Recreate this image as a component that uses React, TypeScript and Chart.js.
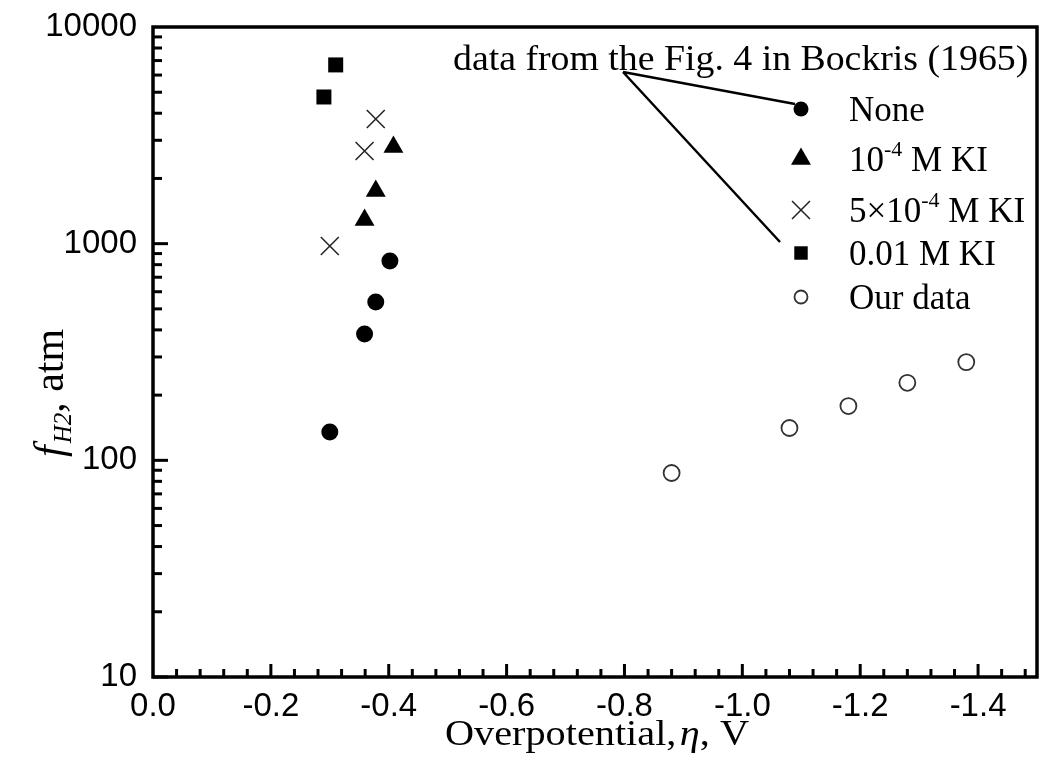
import React, { useEffect, useRef } from 'react';
import { Chart, registerables } from 'chart.js';

Chart.register(...registerables);

// ---------- data ----------
const noneX = [-0.30, -0.359, -0.378, -0.402];
const noneY = [135, 383, 538, 832];
const ki4X = [-0.359, -0.378, -0.408];
const ki4Y = [1286, 1750, 2793];
const ki54X = [-0.30, -0.359, -0.378];
const ki54Y = [976, 2677, 3760];
const ki001X = [-0.29, -0.31];
const ki001Y = [4753, 6683];
const ourX = [-0.88, -1.08, -1.18, -1.28, -1.38];
const ourY = [87.4, 141, 178, 228, 284];

const xTicks = [0, -0.2, -0.4, -0.6, -0.8, -1.0, -1.2, -1.4];
const yTicks = [10, 100, 1000, 10000];

// legend label parts: [base, superscript, rest]
const legendParts: [string, string, string][] = [
  ['None', '', ''],
  ['10', '-4', ' M KI'],
  ['5×10', '-4', ' M KI'],
  ['0.01 M KI', '', ''],
  ['Our data', '', ''],
];
const annotationText = 'data from the Fig. 4 in Bockris (1965)';

const SERIF = '"Liberation Serif", "Times New Roman", serif';
const SANS = '"Liberation Sans", Arial, sans-serif';

const toPts = (xs: number[], ys: number[]) => xs.map((x, i) => ({ x, y: ys[i] }));

function drawMarker(ctx: CanvasRenderingContext2D, style: string, x: number, y: number, s: number) {
  ctx.save();
  ctx.beginPath();
  if (style === 'circle') {
    ctx.arc(x, y, s, 0, Math.PI * 2);
    ctx.fillStyle = '#000';
    ctx.fill();
  } else if (style === 'triangle') {
    ctx.moveTo(x, y - s);
    ctx.lineTo(x + s * 0.866, y + s * 0.5);
    ctx.lineTo(x - s * 0.866, y + s * 0.5);
    ctx.closePath();
    ctx.fillStyle = '#000';
    ctx.fill();
  } else if (style === 'crossRot') {
    const d = s * 0.7071;
    ctx.moveTo(x - d, y - d);
    ctx.lineTo(x + d, y + d);
    ctx.moveTo(x + d, y - d);
    ctx.lineTo(x - d, y + d);
    ctx.strokeStyle = '#222';
    ctx.lineWidth = 1.5;
    ctx.stroke();
  } else if (style === 'rect') {
    const h = s * 0.7071;
    ctx.fillStyle = '#000';
    ctx.fillRect(x - h, y - h, 2 * h, 2 * h);
  } else if (style === 'open') {
    ctx.arc(x, y, s, 0, Math.PI * 2);
    ctx.strokeStyle = '#333';
    ctx.lineWidth = 1.8;
    ctx.stroke();
  }
  ctx.restore();
}

const decorPlugin = {
  id: 'decor',
  afterDraw(chart: any) {
    const ctx: CanvasRenderingContext2D = chart.ctx;
    const { left, right, top, bottom } = chart.chartArea;
    const xs = chart.scales.x;
    const ys = chart.scales.y;
    ctx.save();
    // frame
    ctx.strokeStyle = '#000';
    ctx.lineWidth = 3.5;
    ctx.strokeRect(left, top, right - left, bottom - top);
    // x ticks
    ctx.lineWidth = 3;
    for (let i = 1; i <= 37; i++) {
      const v = -i * 0.04;
      const px = xs.getPixelForValue(v);
      const len = i % 5 === 0 ? 13 : 8;
      ctx.beginPath();
      ctx.moveTo(px, bottom);
      ctx.lineTo(px, bottom - len);
      ctx.stroke();
    }
    // y ticks
    for (let dec = 10; dec <= 1000; dec *= 10) {
      for (let m = 1; m <= 9; m++) {
        const v = dec * m;
        const py = ys.getPixelForValue(v);
        const len = m === 1 ? 15 : 9;
        ctx.beginPath();
        ctx.moveTo(left, py);
        ctx.lineTo(left + len, py);
        ctx.stroke();
      }
    }

    // annotation
    ctx.fillStyle = '#000';
    ctx.textBaseline = 'alphabetic';
    ctx.textAlign = 'left';
    ctx.save();
    ctx.translate(453, 70);
    ctx.scale(1.08, 1);
    ctx.font = `35px ${SERIF}`;
    ctx.fillText(annotationText, 0, 0);
    ctx.restore();

    // legend
    const styles = ['circle', 'triangle', 'crossRot', 'rect', 'open'];
    const sizes = [7.5, 11.5, 12.7, 9.5, 6.5];
    const ly = [109, 159, 210, 253, 297];
    const mx = 801;
    const tx = 849;
    legendParts.forEach((p, i) => {
      drawMarker(ctx, styles[i], mx, ly[i], sizes[i]);
      const base = ly[i] + 12;
      ctx.font = `35px ${SERIF}`;
      ctx.fillStyle = '#000';
      let cx = tx;
      ctx.fillText(p[0], cx, base);
      cx += ctx.measureText(p[0]).width;
      if (p[1]) {
        ctx.font = `22px ${SERIF}`;
        ctx.fillText(p[1], cx, base - 15);
        cx += ctx.measureText(p[1]).width;
        ctx.font = `35px ${SERIF}`;
        ctx.fillText(p[2], cx, base);
      }
    });

    // callout lines
    ctx.strokeStyle = '#000';
    ctx.lineWidth = 2.5;
    ctx.beginPath();
    ctx.moveTo(623, 72);
    ctx.lineTo(795, 104);
    ctx.moveTo(623, 72);
    ctx.lineTo(780, 242);
    ctx.stroke();

    // x title (slightly stretched like the reference)
    {
      const sx = 1.15;
      const fs = 35;
      const partA = 'Overpotential,';
      const partB = 'η';
      const partC = ', V';
      ctx.font = `${fs}px ${SERIF}`;
      const wA = ctx.measureText(partA).width;
      const wC = ctx.measureText(partC).width;
      ctx.font = `italic ${fs}px ${SERIF}`;
      const wB = ctx.measureText(partB).width;
      const total = (wA + wB + wC + 3) * sx;
      ctx.save();
      ctx.translate((left + right) / 2 - total / 2 + 2, 745);
      ctx.scale(sx, 1);
      let cx = 0;
      ctx.font = `${fs}px ${SERIF}`;
      ctx.fillText(partA, cx, 0);
      cx += wA + 3;
      ctx.font = `italic ${fs}px ${SERIF}`;
      ctx.fillText(partB, cx, 0);
      cx += wB;
      ctx.font = `${fs}px ${SERIF}`;
      ctx.fillText(partC, cx, 0);
      ctx.restore();
    }

    // y title
    {
      ctx.save();
      ctx.translate(63, 457);
      ctx.rotate(-Math.PI / 2);
      let cx = 0;
      ctx.font = `italic 42px ${SERIF}`;
      ctx.fillText('f', cx, 0);
      cx += ctx.measureText('f').width + 2;
      ctx.font = `italic 25px ${SERIF}`;
      ctx.fillText('H2', cx, 8);
      cx += ctx.measureText('H2').width;
      ctx.font = `42px ${SERIF}`;
      ctx.fillText(', atm', cx, 0);
      ctx.restore();
    }
    ctx.restore();
  },
};

const zeroPad = (s: any) => {
  s.paddingTop = 0;
  s.paddingBottom = 0;
  s.paddingLeft = 0;
  s.paddingRight = 0;
};

export default function App() {
  const ref = useRef<HTMLCanvasElement | null>(null);
  useEffect(() => {
    document.body.style.margin = '0';
    if (!ref.current) return;
    const chart = new Chart(ref.current, {
      type: 'scatter',
      data: {
        datasets: [
          {
            label: 'None',
            data: toPts(noneX, noneY),
            pointStyle: 'circle',
            pointRadius: 8.5,
            backgroundColor: '#000',
            borderColor: '#000',
            borderWidth: 0,
          },
          {
            label: '10^-4 M KI',
            data: toPts(ki4X, ki4Y),
            pointStyle: 'triangle',
            pointRadius: 11.5,
            backgroundColor: '#000',
            borderColor: '#000',
            borderWidth: 0,
          },
          {
            label: '5×10^-4 M KI',
            data: toPts(ki54X, ki54Y),
            pointStyle: 'crossRot',
            pointRadius: 12.7,
            backgroundColor: '#222',
            borderColor: '#222',
            borderWidth: 1.5,
          },
          {
            label: '0.01 M KI',
            data: toPts(ki001X, ki001Y),
            pointStyle: 'rect',
            pointRadius: 10.6,
            backgroundColor: '#000',
            borderColor: '#000',
            borderWidth: 0,
          },
          {
            label: 'Our data',
            data: toPts(ourX, ourY),
            pointStyle: 'circle',
            pointRadius: 8,
            backgroundColor: 'rgba(255,255,255,0)',
            borderColor: '#333',
            borderWidth: 1.8,
          },
        ],
      },
      options: {
        responsive: false,
        animation: false,
        devicePixelRatio: 1,
        layout: { autoPadding: false, padding: { top: 27, right: 4, left: 0, bottom: 0 } },
        plugins: {
          legend: { display: false },
          tooltip: { enabled: false },
          title: { display: false },
        },
        scales: {
          x: {
            type: 'linear',
            reverse: true,
            min: -1.5,
            max: 0,
            grid: { display: false, drawTicks: false },
            border: { display: false },
            afterBuildTicks: (s: any) => {
              s.ticks = xTicks.map((v) => ({ value: v }));
            },
            afterFit: (s: any) => {
              s.height = 103;
              zeroPad(s);
            },
            ticks: {
              autoSkip: false,
              maxRotation: 0,
              padding: 10,
              color: '#000',
              font: { family: SANS, size: 33 },
              callback: (v: any) => Number(v).toFixed(1),
            },
          },
          y: {
            type: 'logarithmic',
            min: 10,
            max: 10000,
            grid: { display: false, drawTicks: false },
            border: { display: false },
            afterBuildTicks: (s: any) => {
              s.ticks = yTicks.map((v) => ({ value: v }));
            },
            afterFit: (s: any) => {
              s.width = 153;
              zeroPad(s);
            },
            ticks: {
              autoSkip: false,
              padding: 16,
              color: '#000',
              font: { family: SANS, size: 33 },
              callback: (v: any) => String(v),
            },
          },
        },
      },
      plugins: [decorPlugin],
    } as any);
    return () => chart.destroy();
  }, []);
  return (
    <div style={{ width: 1041, height: 780, background: '#fff' }}>
      <canvas ref={ref} width={1041} height={780} style={{ display: 'block' }} />
    </div>
  );
}
